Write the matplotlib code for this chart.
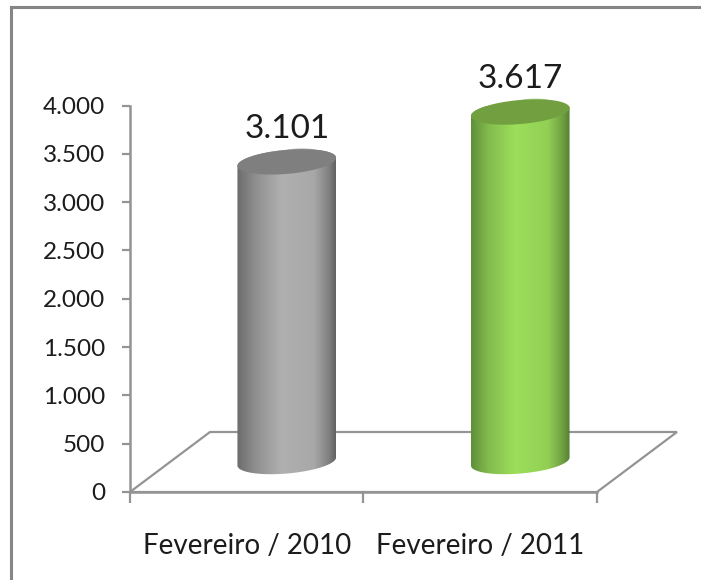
import numpy as np
import matplotlib
matplotlib.use('Agg')
import matplotlib.pyplot as plt
from matplotlib.colors import LinearSegmentedColormap
from matplotlib.lines import Line2D
from matplotlib.patches import PathPatch, Polygon
from matplotlib.path import Path

categories = ['Fevereiro / 2010', 'Fevereiro / 2011']
values = [3101, 3617]
value_labels = ['3.101', '3.617']
y_ticks = [0, 500, 1000, 1500, 2000, 2500, 3000, 3500, 4000]
y_tick_labels = ['0', '500', '1.000', '1.500', '2.000', '2.500', '3.000', '3.500', '4.000']

W, H = 701, 580
plt.rcParams['font.family'] = ['Lato', 'DejaVu Sans']
text_color = '#1c1c1c'
axis_color = '#949494'

fig = plt.figure(figsize=(W / 100, H / 100), dpi=100)
ax = fig.add_axes([130 / W, 1 - 492 / H, (597 - 130) / W, (492 - 105.5) / H])
ax.set_xlim(0, 2)
ax.set_ylim(0, 4000)

# pixels -> data units
sx = 2 / (597 - 130)
sy = 4000 / (492 - 105.5)

# floor of the 3d chart
depth_x = 80 * sx
depth_y = 60 * sy
ax.add_patch(Polygon([(0, 0), (2, 0), (2 + depth_x, depth_y), (depth_x, depth_y)], closed=True,
                     facecolor='white', edgecolor=axis_color, linewidth=1.6, clip_on=False, zorder=1))


def ring(cx, cy, t, a=49.5, b=12, tilt=np.radians(5)):
    # tilted ellipse, a and b in pixels
    x = a * np.cos(t) * np.cos(tilt) - b * np.sin(t) * np.sin(tilt)
    y = a * np.cos(t) * np.sin(tilt) + b * np.sin(t) * np.cos(tilt)
    return np.column_stack([cx + x * sx, cy + y * sy])


def cylinder(pos, value, cmap, top_color, shine):
    cx = pos + 0.5 + depth_x / 2
    base = depth_y / 2 + 0.5 * sy
    lower = ring(cx, base, np.linspace(np.pi, 2 * np.pi, 60))
    upper = ring(cx, base + value, np.linspace(0, np.pi, 60))
    verts = np.vstack([lower, upper, lower[:1]])
    patch = PathPatch(Path(verts), facecolor='none', edgecolor='none', transform=ax.transData)
    ax.add_patch(patch)
    im = ax.imshow(np.linspace(0, 1, 256).reshape(1, -1), cmap=cmap, aspect='auto', zorder=3,
                   extent=[cx - 49.5 * sx, cx + 49.5 * sx, base - 20 * sy, base + value + 20 * sy])
    im.set_clip_path(patch)
    # small light edge behind the lid
    edge = ring(cx + 15 * sx, base + value + 11.5 * sy, np.linspace(0, 2 * np.pi, 40), a=14, b=2, tilt=0)
    ax.add_patch(Polygon(edge, closed=True, facecolor=shine, edgecolor='none', zorder=3.5, clip_on=False))
    top = ring(cx, base + value, np.linspace(0, 2 * np.pi, 120))
    ax.add_patch(Polygon(top, closed=True, facecolor=top_color, edgecolor='none', zorder=4, clip_on=False))
    return cx, base


grey = LinearSegmentedColormap.from_list('grey', [(0, '#6c6c6c'), (0.18, '#8e8e8e'), (0.45, '#b0b0b0'),
                                                  (0.78, '#a8a8a8'), (0.93, '#808080'), (1, '#626262')])
green = LinearSegmentedColormap.from_list('green', [(0, '#5f8f3a'), (0.18, '#84bc4d'), (0.45, '#9cdf5b'),
                                                    (0.78, '#92cf54'), (0.93, '#6f9f42'), (1, '#557f34')])

styles = [(grey, '#7f7f7f', '#bdbdbd'), (green, '#72a040', '#c4dcaa')]
for i, (v, lab, st) in enumerate(zip(values, value_labels, styles)):
    cx, base = cylinder(i, v, st[0], st[1], st[2])
    ax.annotate(lab, (cx, base + v), xytext=(0, 17), textcoords='offset points', ha='center', va='baseline',
                fontsize=24, color=text_color, annotation_clip=False)

ax.set_xlim(0, 2)
ax.set_ylim(0, 4000)

for side in ['top', 'right']:
    ax.spines[side].set_visible(False)
for side in ['left', 'bottom']:
    ax.spines[side].set_color(axis_color)
    ax.spines[side].set_linewidth(1.8)
    ax.spines[side].set_zorder(2)

ax.set_yticks(y_ticks, y_tick_labels)
ax.set_xticks([0, 1, 2], [])
ax.set_xticks([0.5, 1.5], categories, minor=True)
ax.tick_params(axis='y', length=6, width=1.6, color=axis_color, labelcolor=text_color, labelsize=17.5, pad=12)
ax.tick_params(axis='x', which='major', length=8, width=1.6, color=axis_color)
ax.tick_params(axis='x', which='minor', length=0, labelcolor=text_color, labelsize=20, pad=29.5)
ax.patch.set_visible(False)

# outer frame of the picture
frame = dict(color='#868686', linewidth=2.2, transform=fig.transFigure)
fig.add_artist(Line2D([10.5 / W, 10.5 / W], [0, 1 - 7 / H], **frame))
fig.add_artist(Line2D([10.5 / W, 1], [1 - 7 / H, 1 - 7 / H], **frame))

fig.savefig('out.png', dpi=100)
